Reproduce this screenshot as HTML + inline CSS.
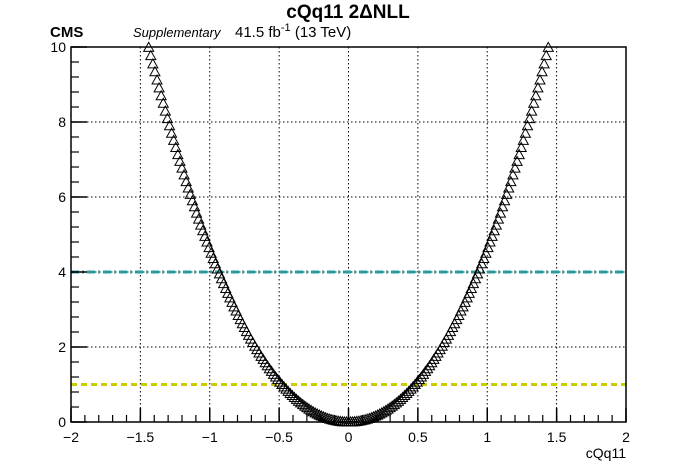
<!DOCTYPE html>
<html><head><meta charset="utf-8"><style>
body{margin:0;background:#fff;}
svg{display:block;font-family:"Liberation Sans",sans-serif;}
</style></head><body>
<svg id="chart" width="696" height="472" viewBox="0 0 696 472">
<text x="348" y="18" text-anchor="middle" font-size="19" font-weight="bold">cQq11 2ΔNLL</text>
<text x="50" y="37" font-size="15" font-weight="bold">CMS</text>
<text x="133" y="37" font-size="13" font-style="italic">Supplementary</text>
<text x="235" y="37" font-size="15">41.5 fb<tspan dy="-6" font-size="11">-1</tspan><tspan dy="6"> (13 TeV)</tspan></text>
<g id="grid"></g>
<g id="refs"></g>
<g id="marks"></g>
<g id="axes"></g>
<text x="626" y="458" text-anchor="end" font-size="14">cQq11</text>
</svg>
<script>
const xTicks=[-2,-1.5,-1,-0.5,0,0.5,1,1.5,2];
const xTickLabels=["\u22122","\u22121.5","\u22121","\u22120.5","0","0.5","1","1.5","2"];
const yTicks=[0,2,4,6,8,10];
const yTickLabels=["0","2","4","6","8","10"];
const refLevels=[4,1];
const xVals=[-1.44,-1.41,-1.38,-1.35,-1.32,-1.29,-1.26,-1.23,-1.2,-1.17,-1.14,-1.11,-1.08,-1.05,-1.02,-0.99,-0.96,-0.93,-0.9,-0.87,-0.84,-0.81,-0.78,-0.75,-0.72,-0.69,-0.66,-0.63,-0.6,-0.57,-0.54,-0.51,-0.48,-0.45,-0.42,-0.39,-0.36,-0.33,-0.3,-0.27,-0.24,-0.21,-0.18,-0.15,-0.12,-0.09,-0.06,-0.03,0,0.03,0.06,0.09,0.12,0.15,0.18,0.21,0.24,0.27,0.3,0.33,0.36,0.39,0.42,0.45,0.48,0.51,0.54,0.57,0.6,0.63,0.66,0.69,0.72,0.75,0.78,0.81,0.84,0.87,0.9,0.93,0.96,0.99,1.02,1.05,1.08,1.11,1.14,1.17,1.2,1.23,1.26,1.29,1.32,1.35,1.38,1.41,1.44];
const nllVals=[9.99,9.55,9.12,8.70,8.29,7.90,7.51,7.13,6.77,6.41,6.07,5.74,5.41,5.10,4.80,4.50,4.22,3.95,3.69,3.43,3.19,2.96,2.73,2.52,2.31,2.12,1.93,1.75,1.58,1.42,1.27,1.13,1.00,0.876,0.760,0.653,0.555,0.465,0.383,0.309,0.243,0.185,0.136,0.094,0.060,0.034,0.015,0.004,0,0.004,0.015,0.034,0.060,0.094,0.136,0.185,0.243,0.309,0.383,0.465,0.555,0.653,0.760,0.876,1.00,1.13,1.27,1.42,1.58,1.75,1.93,2.12,2.31,2.52,2.73,2.96,3.19,3.43,3.69,3.95,4.22,4.50,4.80,5.10,5.41,5.74,6.07,6.41,6.77,7.13,7.51,7.90,8.29,8.70,9.12,9.55,9.99];
const xValsB=[-1.425,-1.395,-1.365,-1.335,-1.305,-1.275,-1.245,-1.215,-1.185,-1.155,-1.125,-1.095,-1.065,-1.035,-1.005,-0.975,-0.945,-0.915,-0.885,-0.855,-0.825,-0.795,-0.765,-0.735,-0.705,-0.675,-0.645,-0.615,-0.585,-0.555,-0.525,-0.495,-0.465,-0.435,-0.405,-0.375,-0.345,-0.315,-0.285,-0.255,-0.225,-0.195,-0.165,-0.135,-0.105,-0.075,-0.045,-0.015,0.015,0.045,0.075,0.105,0.135,0.165,0.195,0.225,0.255,0.285,0.315,0.345,0.375,0.405,0.435,0.465,0.495,0.525,0.555,0.585,0.615,0.645,0.675,0.705,0.735,0.765,0.795,0.825,0.855,0.885,0.915,0.945,0.975,1.005,1.035,1.065,1.095,1.125,1.155,1.185,1.215,1.245,1.275,1.305,1.335,1.365,1.395,1.425];
const nllValsB=[9.77,9.34,8.91,8.50,8.09,7.70,7.32,6.95,6.59,6.24,5.90,5.57,5.25,4.95,4.65,4.36,4.08,3.82,3.56,3.31,3.07,2.84,2.62,2.41,2.21,2.02,1.84,1.67,1.50,1.35,1.20,1.065,0.937,0.817,0.706,0.603,0.509,0.423,0.345,0.275,0.213,0.160,0.114,0.076,0.046,0.023,0.008,0.001,0.001,0.008,0.023,0.046,0.076,0.114,0.160,0.213,0.275,0.345,0.423,0.509,0.603,0.706,0.817,0.937,1.065,1.20,1.35,1.50,1.67,1.84,2.02,2.21,2.41,2.62,2.84,3.07,3.31,3.56,3.82,4.08,4.36,4.65,4.95,5.25,5.57,5.90,6.24,6.59,6.95,7.32,7.70,8.09,8.50,8.91,9.34,9.77];

const NS="http://www.w3.org/2000/svg";
const L=71,R=626,T=47,B=422;
const sx=v=>L+(v+2)/4*(R-L);
const sy=v=>B-v/10*(B-T);
function mk(tag,attrs,parent){const e=document.createElementNS(NS,tag);for(const k in attrs)e.setAttribute(k,attrs[k]);parent.appendChild(e);return e;}
const grid=document.getElementById('grid'),refs=document.getElementById('refs'),marks=document.getElementById('marks'),axes=document.getElementById('axes');
xTicks.forEach((v,i)=>{
  const g=mk('line',{x1:sx(v),x2:sx(v),y1:T,y2:B,stroke:'#000','stroke-width':1,'stroke-dasharray':'1.5,2.5'},grid);
  
  
  const t=mk('line',{x1:sx(v),x2:sx(v),y1:B,y2:B-14,stroke:'#000','stroke-width':1.5},axes);
  
  
  const lb=mk('text',{x:sx(v),y:B+20,'text-anchor':'middle','font-size':14},axes);
  lb.textContent=xTickLabels[i];
  
  
});
for(let v=-2;v<=2.001;v+=0.1){
  const t=mk('line',{x1:sx(v),x2:sx(v),y1:B,y2:B-7,stroke:'#000','stroke-width':1.2},axes);
  
  
}
yTicks.forEach((v,i)=>{
  const g=mk('line',{x1:L,x2:R,y1:sy(v),y2:sy(v),stroke:'#000','stroke-width':1,'stroke-dasharray':'1.5,2.5'},grid);
  
  
  const t=mk('line',{x1:L,x2:L+16,y1:sy(v),y2:sy(v),stroke:'#000','stroke-width':1.5},axes);
  
  
  const lb=mk('text',{x:L-5,y:sy(v)+5,'text-anchor':'end','font-size':14},axes);
  lb.textContent=yTickLabels[i];
  
  
});
for(let v=0;v<=10.001;v+=0.4){
  const t=mk('line',{x1:L,x2:L+8,y1:sy(v),y2:sy(v),stroke:'#000','stroke-width':1.2},axes);
  
  
}
const r1=mk('line',{x1:L,x2:R,y1:sy(refLevels[0]),y2:sy(refLevels[0]),stroke:'#2e9a9a','stroke-width':3,'stroke-dasharray':'8,3,2,3'},refs);


const r2=mk('line',{x1:L,x2:R,y1:sy(refLevels[1]),y2:sy(refLevels[1]),stroke:'#cccc00','stroke-width':3,'stroke-dasharray':'6,4'},refs);


function drawPoints(xs,ys){
  xs.forEach((x,i)=>{
    const cx=sx(x),cy=sy(ys[i]);
    const p=mk('polygon',{points:`${cx-5},${cy+4} ${cx+5},${cy+4} ${cx},${cy-5}`,fill:'none',stroke:'#000','stroke-width':1},marks);
    
    
  });
}
drawPoints(xVals,nllVals);
drawPoints(xValsB,nllValsB);
const fr=mk('rect',{x:L,y:T,width:R-L,height:B-T,fill:'none',stroke:'#000','stroke-width':1.5},axes);


</script>
</body></html>
